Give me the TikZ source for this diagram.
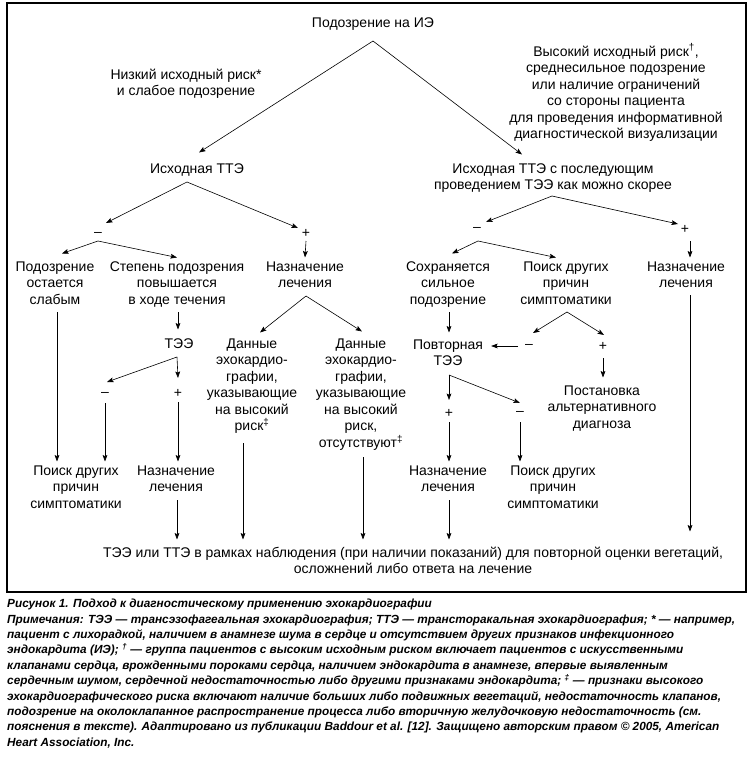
\documentclass[tikz,border=0pt]{standalone}
\usepackage{fontspec}
\setmainfont{Liberation Sans}
\usetikzlibrary{arrows.meta}
\tikzset{
  txt/.style={anchor=north, align=center, inner sep=0pt, font=\fontsize{14}{16.5}\selectfont},
  sgn/.style={anchor=center, inner sep=0pt, font=\fontsize{14}{16.5}\selectfont},
  arr/.style={line width=0.6pt, -{Stealth[length=6.5pt,width=4.8pt,inset=1.2pt]}},
}
\begin{document}
\begin{tikzpicture}[x=1pt,y=-1pt]
\useasboundingbox (0,0) rectangle (752,760);
\draw[line width=1.1pt] (7,3) rectangle (746,592);
% top level
\node[txt] (n0) at (373,17.5) {Подозрение на ИЭ};
\node[txt] (lowlab) at (186,68.5) {Низкий исходный риск*\\и слабое подозрение};
\node[txt] (highlab) at (616,43.5) {Высокий исходный риск\textsuperscript{†},\\среднесильное подозрение\\или наличие ограничений\\со стороны пациента\\для проведения информативной\\диагностической визуализации};
\node[txt] (tteL) at (197,163.5) {Исходная ТТЭ};
\node[txt] (tteR) at (553,163.5) {Исходная ТТЭ с последующим\\проведением ТЭЭ как можно скорее};
% left branch
\node[sgn] (mL) at (98,234) {–};
\node[sgn] (pL) at (306,233) {+};
\node[txt] (a1) at (55,261.5) {Подозрение\\остается\\слабым};
\node[txt] (a2) at (177,261.5) {Степень подозрения\\повышается\\в ходе течения};
\node[txt] (a3) at (305,261.5) {Назначение\\лечения};
\node[txt] (tee) at (179,338.5) {ТЭЭ};
\node[sgn] (mL2) at (105,394) {–};
\node[sgn] (pL2) at (178,393) {+};
\node[txt] (d1) at (252,338.5) {Данные\\эхокардио-\\графии,\\указывающие\\на высокий\\риск\textsuperscript{‡}};
\node[txt] (d2) at (361,338.5) {Данные\\эхокардио-\\графии,\\указывающие\\на высокий\\риск,\\отсутствуют\textsuperscript{‡}};
\node[txt] (b1) at (76,465.5) {Поиск других\\причин\\симптоматики};
\node[txt] (b2) at (176,465.5) {Назначение\\лечения};
% right branch
\node[sgn] (mR) at (477,229) {–};
\node[sgn] (pR) at (685,229) {+};
\node[txt] (c1) at (448,261.5) {Сохраняется\\сильное\\подозрение};
\node[txt] (c2) at (566,261.5) {Поиск других\\причин\\симптоматики};
\node[txt] (c3) at (686,261.5) {Назначение\\лечения};
\node[txt] (rep) at (448,339.5) {Повторная\\ТЭЭ};
\node[sgn] (mR2) at (529,346) {–};
\node[sgn] (pR2) at (603,346) {+};
\node[txt] (alt) at (602,385.5) {Постановка\\альтернативного\\диагноза};
\node[sgn] (pR3) at (449,413) {+};
\node[sgn] (mR3) at (520,413) {–};
\node[txt] (e1) at (448,465.5) {Назначение\\лечения};
\node[txt] (e2) at (553,465.5) {Поиск других\\причин\\симптоматики};
% final
\node[txt] (fin) at (413,546.5) {ТЭЭ или ТТЭ в рамках наблюдения (при наличии показаний) для повторной оценки вегетаций,\\осложнений либо ответа на лечение};
% apex coordinates
\coordinate (ap0) at (n0.south |- 0,41);
\coordinate (apL) at ([xshift=-10pt]tteL.south |- 0,182);
\coordinate (apR) at ([xshift=-1pt]tteR.south |- 0,196);
\coordinate (apmL) at ([yshift=-7pt]mL.center);
\coordinate (apa3) at ([xshift=1pt]a3.south |- 0,296);
\coordinate (aptee) at ([xshift=-2pt]tee.south |- 0,357);
\coordinate (apmR) at ([xshift=1pt,yshift=-12pt]mR.center);
\coordinate (apc2) at ([xshift=1pt]c2.south |- 0,312);
\coordinate (aprep) at ([xshift=1pt]rep.south |- 0,375);
% connectors top
\draw[arr] (ap0) -- ([xshift=2pt,yshift=11pt]tteL.north);
\draw[arr] (ap0) -- ([xshift=-31pt,yshift=9pt]tteR.north);
% left
\draw[arr] (apL) -- ([xshift=8pt,yshift=11pt]mL.center);
\draw[arr] (apL) -- ([xshift=-8pt,yshift=5pt]pL.center);
\draw[arr] (apmL) -- ([xshift=7pt,yshift=8pt]a1.north);
\draw[arr] (apmL) -- ([yshift=4pt]a2.north);
\draw[arr] ([yshift=-8pt]pL.center) -- ([yshift=4pt]a3.north);
\coordinate (a2b) at ([xshift=1pt]a2.south |- 0,312);
\draw[arr, shorten >=9pt] (a2b) -- (a2b |- tee.north);
\draw[arr] (aptee) -- ([xshift=2pt,yshift=12pt]mL2.center);
\draw[arr] (aptee) -- ([yshift=15pt]pL2.center);
\draw[arr] (apa3) -- ([xshift=8pt,yshift=6pt]d1.north);
\draw[arr] (apa3) -- ([xshift=1pt,yshift=7pt]d2.north);
\coordinate (a1b) at ([xshift=2pt]a1.south |- 0,312);
\draw[arr, shorten >=4pt] (a1b) -- (a1b |- b1.north);
\coordinate (mL2b) at ([yshift=-9pt]mL2.center);
\draw[arr, shorten >=4pt] (mL2b) -- (mL2b |- b1.north);
\coordinate (pL2b) at ([yshift=-9pt]pL2.center);
\draw[arr, shorten >=4pt] (pL2b) -- (pL2b |- b2.north);
\coordinate (b2b) at ([xshift=1pt]b2.south |- 0,500);
\draw[arr, shorten >=7pt] (b2b) -- (b2b |- fin.north);
\coordinate (d1b) at ([xshift=-9pt]d1.south |- 0,443);
\draw[arr, shorten >=7pt] (d1b) -- (d1b |- fin.north);
\coordinate (d2b) at ([xshift=2pt]d2.south |- 0,457);
\draw[arr, shorten >=7pt] (d2b) -- (d2b |- fin.north);
% right
\draw[arr] (apR) -- ([xshift=9pt,yshift=7pt]mR.center);
\draw[arr] (apR) -- ([xshift=-7pt,yshift=5pt]pR.center);
\draw[arr] (apmR) -- ([xshift=4pt,yshift=8pt]c1.north);
\draw[arr] (apmR) -- ([xshift=-10pt,yshift=4pt]c2.north);
\coordinate (pRb) at ([xshift=5pt,yshift=-12pt]pR.center);
\draw[arr, shorten >=4pt] (pRb) -- (pRb |- c3.north);
\coordinate (c1b) at ([xshift=1pt]c1.south |- 0,312);
\draw[arr, shorten >=7pt] (c1b) -- (c1b |- rep.north);
\draw[arr] (apc2) -- ([xshift=4pt,yshift=13pt]mR2.center);
\draw[arr] (apc2) -- ([xshift=1pt,yshift=11pt]pR2.center);
\draw[arr] ([xshift=-11pt]mR2.center) -- ([xshift=8pt]rep.east |- mR2.center);
\coordinate (pR2b) at ([yshift=-12pt]pR2.center);
\draw[arr, shorten >=8pt] (pR2b) -- (pR2b |- alt.north);
\coordinate (c3b) at ([xshift=4pt]c3.south |- 0,295);
\draw[arr, shorten >=15pt] (c3b) -- (c3b |- fin.north);
\draw[arr] (aprep) -- ([yshift=13pt]pR3.center);
\draw[arr] (aprep) -- ([yshift=10pt]mR3.center);
\coordinate (pR3b) at ([yshift=-9pt]pR3.center);
\draw[arr, shorten >=4pt] (pR3b) -- (pR3b |- e1.north);
\coordinate (mR3b) at ([yshift=-9pt]mR3.center);
\draw[arr, shorten >=4pt] (mR3b) -- (mR3b |- e2.north);
\coordinate (e1b) at ([xshift=1pt]e1.south |- 0,500);
\draw[arr, shorten >=7pt] (e1b) -- (e1b |- fin.north);
% caption
\node[anchor=north west, align=left, inner sep=0pt, font=\fontsize{11.8}{15.4}\selectfont\bfseries\itshape] (cap) at (7,599) {Рисунок 1. Подход к диагностическому применению эхокардиографии\\
Примечания: ТЭЭ — трансэзофагеальная эхокардиография; ТТЭ — трансторакальная эхокардиография; * — например,\\
пациент с лихорадкой, наличием в анамнезе шума в сердце и отсутствием других признаков инфекционного\\
эндокардита (ИЭ); \textsuperscript{†} — группа пациентов с высоким исходным риском включает пациентов с искусственными\\
клапанами сердца, врожденными пороками сердца, наличием эндокардита в анамнезе, впервые выявленным\\
сердечным шумом, сердечной недостаточностью либо другими признаками эндокардита; \textsuperscript{‡} — признаки высокого\\
эхокардиографического риска включают наличие больших либо подвижных вегетаций, недостаточность клапанов,\\
подозрение на околоклапанное распространение процесса либо вторичную желудочковую недостаточность (см.\\
пояснения в тексте). Адаптировано из публикации Baddour et al. [12]. Защищено авторским правом © 2005, American\\
Heart Association, Inc.};
\end{tikzpicture}
\end{document}
